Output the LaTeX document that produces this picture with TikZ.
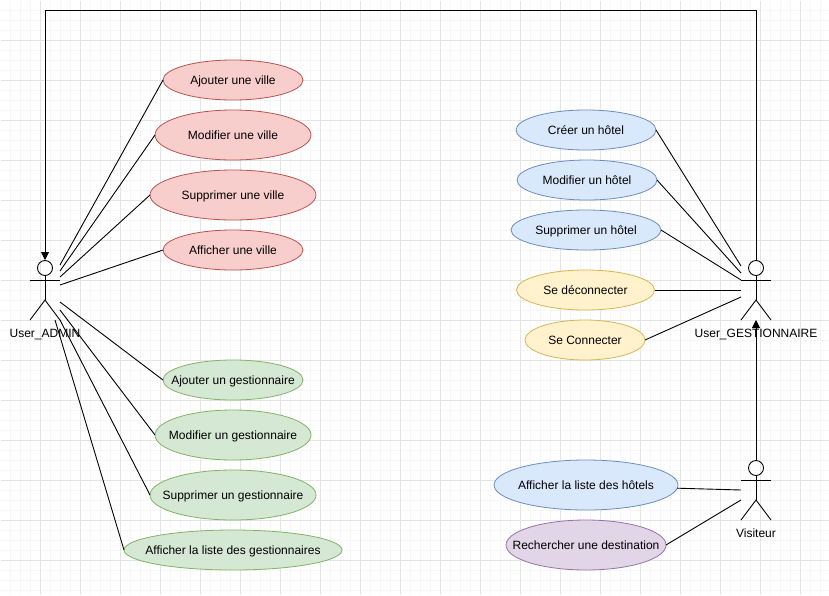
\documentclass[tikz,border=0pt]{standalone}
\usepackage{fontspec}
\setmainfont{Liberation Sans}
\usetikzlibrary{shapes.geometric,arrows.meta}
\definecolor{gmaj}{HTML}{E4E4E4}
\definecolor{gmin}{HTML}{F6F6F6}
\newcommand{\uctext}[1]{\makebox[0pt][c]{\raisebox{-4pt}[0pt][0pt]{#1}}}
\tikzset{
  x=1pt,y=-1pt,
  ucbox/.style 2 args={ellipse,draw,line width=0.8pt,inner sep=0pt,outer sep=0pt,minimum width=2*#1,minimum height=2*#2,font=\fontsize{12}{14}\selectfont,text=black},
  ucred/.style={fill=rfill,draw=rline},
  ucgreen/.style={fill=gfill,draw=gline},
  ucblue/.style={fill=bfill,draw=bline},
  ucyellow/.style={fill=yfill,draw=yline},
  ucpurple/.style={fill=pfill,draw=pline},
  conn/.style={draw=black,line width=0.9pt},
  arrowconn/.style={conn,-{Triangle[length=8pt,width=8pt]}},
  actorline/.style={draw=black,line width=0.9pt},
  actorlabel/.style={font=\fontsize{12}{14}\selectfont,inner sep=0pt,text=black,anchor=base}
}
\definecolor{rfill}{HTML}{F8CECC}\definecolor{rline}{HTML}{B85450}
\definecolor{gfill}{HTML}{D5E8D4}\definecolor{gline}{HTML}{82B366}
\definecolor{bfill}{HTML}{DAE8FC}\definecolor{bline}{HTML}{6C8EBF}
\definecolor{yfill}{HTML}{FFF2CC}\definecolor{yline}{HTML}{D6B656}
\definecolor{pfill}{HTML}{E1D5E7}\definecolor{pline}{HTML}{9673A6}
\newcommand{\myactor}[3]{%
  \node[circle,draw=black,line width=0.9pt,minimum size=15pt,inner sep=0pt] (#1) at (#2,#3+8) {};
  \coordinate (#1top) at (#2,#3);
  \draw[actorline] (#1.south) -- (#2,#3+40);
  \draw[actorline] (#2-15,#3+20) -- (#2+15,#3+20);
  \draw[actorline] (#2-15,#3+60) -- (#2,#3+40) -- (#2+15,#3+60);
}
\begin{document}
\begin{tikzpicture}
\useasboundingbox (0,0) rectangle (829,595);
\fill[white] (0,0) rectangle (829,595);
\foreach \i in {1,...,82} \draw[gmin,line width=0.7pt] (\i*10+0.5,1) -- (\i*10+0.5,595);
\foreach \i in {1,...,59} \draw[gmin,line width=0.7pt] (1,\i*10+0.5) -- (829,\i*10+0.5);
\foreach \i in {1,...,20} \draw[gmaj,line width=0.8pt] (\i*40+0.5,1) -- (\i*40+0.5,595);
\foreach \i in {1,...,14} \draw[gmaj,line width=0.8pt] (1,\i*40+0.5) -- (829,\i*40+0.5);

% actors
\myactor{admin}{45}{260}
\myactor{gest}{756}{260}
\myactor{vis}{756}{460}
\node[actorlabel] (adminlabel) at (45,337.5) {User\_ADMIN};
\node[actorlabel] (gestlabel) at (756,337.5) {User\_GESTIONNAIRE};
\node[actorlabel] (vislabel) at (756,537.5) {Visiteur};

% use cases
\node[ucbox={70pt}{20pt},ucred] (v1) at (233,80) {\uctext{Ajouter une ville}};
\node[ucbox={78pt}{25pt},ucred] (v2) at (233,135) {\uctext{Modifier une ville}};
\node[ucbox={83pt}{25pt},ucred] (v3) at (233,195) {\uctext{Supprimer une ville}};
\node[ucbox={70pt}{20pt},ucred] (v4) at (233,250) {\uctext{Afficher une ville}};
\node[ucbox={70pt}{20pt},ucgreen] (g1) at (233,380) {\uctext{Ajouter un gestionnaire}};
\node[ucbox={78pt}{25pt},ucgreen] (g2) at (233,435) {\uctext{Modifier un gestionnaire}};
\node[ucbox={83pt}{25pt},ucgreen] (g3) at (233,495) {\uctext{Supprimer un gestionnaire}};
\node[ucbox={109pt}{20pt},ucgreen] (g4) at (233,550) {\uctext{Afficher la liste des gestionnaires}};
\node[ucbox={70pt}{20pt},ucblue] (h1) at (586,130) {\uctext{Créer un hôtel}};
\node[ucbox={70pt}{20pt},ucblue] (h2) at (587,180) {\uctext{Modifier un hôtel}};
\node[ucbox={75pt}{20pt},ucblue] (h3) at (586,230) {\uctext{Supprimer un hôtel}};
\node[ucbox={69pt}{20pt},ucyellow] (s1) at (585.5,290) {\uctext{Se déconnecter}};
\node[ucbox={60pt}{20pt},ucyellow] (s2) at (585,340) {\uctext{Se Connecter}};
\node[ucbox={92pt}{25pt},ucblue] (l1) at (586,485) {\uctext{Afficher la liste des hôtels}};
\node[ucbox={80pt}{25pt},ucpurple] (l2) at (586,545) {\uctext{Rechercher une destination}};

% connector free ends beside the actors
\coordinate (a1) at (60,265); \coordinate (a2) at (60,271); \coordinate (a3) at (60,277); \coordinate (a4) at (60,285);
\coordinate (a5) at (60,302); \coordinate (a6) at (60,310); \coordinate (a7) at (60,320); \coordinate (a8) at (55,320);
\coordinate (b1) at (741,266); \coordinate (b2) at (741,273); \coordinate (b3) at (741,280); \coordinate (b4) at (741,290); \coordinate (b5) at (741,297);
\coordinate (c1) at (741,490); \coordinate (c2) at (741,500);
\coordinate (gestbottom) at (756,320);
\coordinate (topright) at (756,10.5); \coordinate (topleft) at (45,10.5);

\draw[conn] (a1) -- (v1.west);
\draw[conn] (a2) -- (v2.west);
\draw[conn] (a3) -- (v3.west);
\draw[conn] (a4) -- (v4.west);
\draw[conn] (a5) -- (g1.west);
\draw[conn] (a6) -- (g2.west);
\draw[conn] (a7) -- (g3.west);
\draw[conn] (a8) -- (g4.west);
\draw[conn] (b1) -- (h1.east);
\draw[conn] (b2) -- (h2.east);
\draw[conn] (b3) -- (h3.east);
\draw[conn] (b4) -- (s1.east);
\draw[conn] (b5) -- (s2.east);
\draw[conn] (c1) -- (l1.-2);
\draw[conn] (c2) -- (l2.east);
\draw[arrowconn] (gesttop) -- (topright) -- (topleft) -- (admintop);
\draw[arrowconn] (vistop) -- (gestbottom);
\end{tikzpicture}
\end{document}
